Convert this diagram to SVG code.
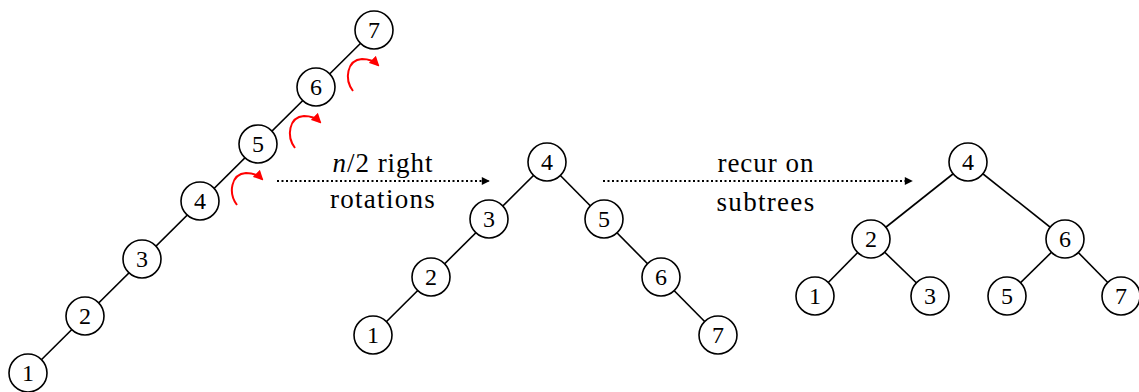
<svg xmlns="http://www.w3.org/2000/svg" width="1139" height="392" viewBox="0 0 1139 392">
<defs>
<style>
.n circle{fill:#fff;stroke:#000;stroke-width:1.6}
.n text{font-size:24px;text-anchor:middle;fill:#000}
.e line{stroke:#000;stroke-width:1.6}
.lbl{font-size:27px;text-anchor:middle;fill:#000}
.dot{stroke:#000;stroke-width:2;stroke-dasharray:2 2.5;fill:none}
.rot{stroke:#f00;stroke-width:2;fill:none}
</style>
<marker id="ah" viewBox="0 0 10 10" refX="9" refY="5" markerWidth="10" markerHeight="8" markerUnits="userSpaceOnUse" orient="auto"><path d="M0,0 L10,5 L0,10 z" fill="#000"/></marker>
<marker id="rh" viewBox="0 0 10 10" refX="8" refY="5" markerWidth="10" markerHeight="10" markerUnits="userSpaceOnUse" orient="auto"><path d="M0,0 L10,5 L0,10 z" fill="#f00"/></marker>
</defs>
<g id="connectors" class="e">
<line x1="28" y1="373" x2="374" y2="30"/>
<line x1="547" y1="162" x2="373" y2="335"/>
<line x1="547" y1="162" x2="718" y2="335"/>
<line x1="968" y1="162" x2="871" y2="239"/>
<line x1="968" y1="162" x2="1065" y2="239"/>
<line x1="871" y1="239" x2="815" y2="296"/>
<line x1="871" y1="239" x2="930" y2="296"/>
<line x1="1065" y1="239" x2="1007" y2="296"/>
<line x1="1065" y1="239" x2="1121" y2="296"/>
<path class="dot" d="M277,181 H489" marker-end="url(#ah)"/>
<path class="dot" d="M603,181 H912" marker-end="url(#ah)"/>
<path class="rot" d="M237,205 C228,193 231,174 246,173 C253,173 258,175 262,179" marker-end="url(#rh)"/>
<path class="rot" d="M295,148 C286,136 289,117 304,116 C311,116 316,118 320,122" marker-end="url(#rh)"/>
<path class="rot" d="M353,91 C344,79 347,60 362,59 C369,59 374,61 378,65" marker-end="url(#rh)"/>
</g>
<g font-family="Liberation Serif, DejaVu Serif, serif">
<text class="lbl" x="383" y="172" letter-spacing="1"><tspan font-style="italic">n</tspan>/2 right</text>
<text class="lbl" x="383" y="208" letter-spacing="1.3">rotations</text>
<text class="lbl" x="766" y="172" letter-spacing="1">recur on</text>
<text class="lbl" x="766" y="211" letter-spacing="1.3">subtrees</text>
<g id="a1" class="n"><circle cx="28" cy="373" r="19"/><text x="28" y="381">1</text></g>
<g id="a2" class="n"><circle cx="85" cy="316" r="19"/><text x="85" y="324">2</text></g>
<g id="a3" class="n"><circle cx="142" cy="259" r="19"/><text x="142" y="267">3</text></g>
<g id="a4" class="n"><circle cx="200" cy="201" r="19"/><text x="200" y="209">4</text></g>
<g id="a5" class="n"><circle cx="258" cy="144" r="19"/><text x="258" y="152">5</text></g>
<g id="a6" class="n"><circle cx="316" cy="87" r="19"/><text x="316" y="95">6</text></g>
<g id="a7" class="n"><circle cx="374" cy="30" r="19"/><text x="374" y="38">7</text></g>
<g id="b4" class="n"><circle cx="547" cy="162" r="19"/><text x="547" y="170">4</text></g>
<g id="b3" class="n"><circle cx="489" cy="219" r="19"/><text x="489" y="227">3</text></g>
<g id="b2" class="n"><circle cx="431" cy="277" r="19"/><text x="431" y="285">2</text></g>
<g id="b1" class="n"><circle cx="373" cy="335" r="19"/><text x="373" y="343">1</text></g>
<g id="b5" class="n"><circle cx="604" cy="219" r="19"/><text x="604" y="227">5</text></g>
<g id="b6" class="n"><circle cx="661" cy="277" r="19"/><text x="661" y="285">6</text></g>
<g id="b7" class="n"><circle cx="718" cy="335" r="19"/><text x="718" y="343">7</text></g>
<g id="c4" class="n"><circle cx="968" cy="162" r="19"/><text x="968" y="170">4</text></g>
<g id="c2" class="n"><circle cx="871" cy="239" r="19"/><text x="871" y="247">2</text></g>
<g id="c6" class="n"><circle cx="1065" cy="239" r="19"/><text x="1065" y="247">6</text></g>
<g id="c1" class="n"><circle cx="815" cy="296" r="19"/><text x="815" y="304">1</text></g>
<g id="c3" class="n"><circle cx="930" cy="296" r="19"/><text x="930" y="304">3</text></g>
<g id="c5" class="n"><circle cx="1007" cy="296" r="19"/><text x="1007" y="304">5</text></g>
<g id="c7" class="n"><circle cx="1121" cy="296" r="19"/><text x="1121" y="304">7</text></g>
</g>
</svg>
